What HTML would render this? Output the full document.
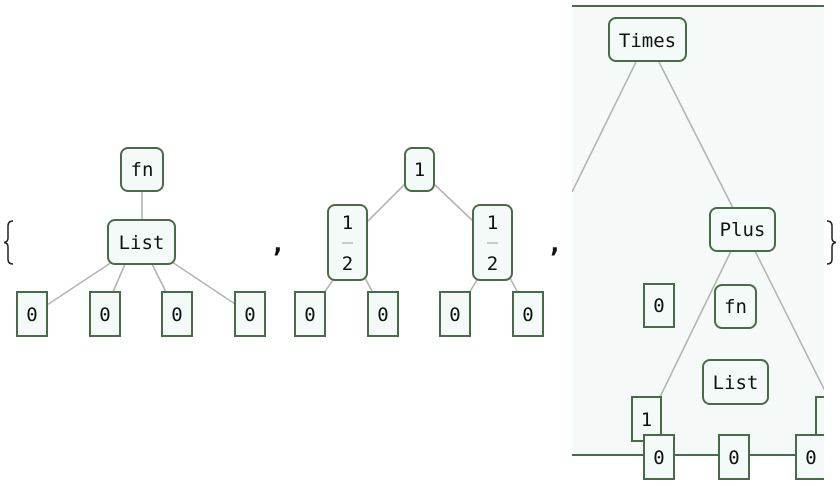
<!DOCTYPE html>
<html><head><meta charset="utf-8"><style>
html,body{margin:0;padding:0;background:#fff;width:840px;height:486px;overflow:hidden}
svg{display:block}
.b{fill:#f4faf7;stroke:#4a6b48;stroke-width:2}
.l{stroke:#b5b5b0;stroke-width:1.6;fill:none}
</style></head><body>
<svg width="840" height="486" viewBox="0 0 840 486" font-family="DejaVu Sans Mono, Liberation Mono, monospace" font-size="19" fill="#111">
<!-- tree 1 -->
<g>
<line class="l" x1="142" y1="191" x2="142" y2="220"/>
<line class="l" x1="112" y1="262" x2="47" y2="305"/>
<line class="l" x1="125" y1="264" x2="113" y2="292"/>
<line class="l" x1="152" y1="264" x2="166" y2="292"/>
<line class="l" x1="172" y1="262" x2="235" y2="304"/>
<rect class="b" x="121" y="148" width="42" height="43" rx="7"/><text x="142" y="176" text-anchor="middle">fn</text>
<rect class="b" x="108" y="220" width="67" height="44" rx="7"/><text x="141.5" y="249" text-anchor="middle">List</text>
<rect class="b" x="17" y="292" width="30" height="44"/><text x="32" y="321" text-anchor="middle">0</text>
<rect class="b" x="90" y="292" width="30" height="44"/><text x="105" y="321" text-anchor="middle">0</text>
<rect class="b" x="162" y="292" width="30" height="44"/><text x="177" y="321" text-anchor="middle">0</text>
<rect class="b" x="235" y="292" width="30" height="44"/><text x="250" y="321" text-anchor="middle">0</text>
</g>
<path d="M13 221 Q8 221 8 226 L8 238 Q8 242 4 242.5 Q8 243 8 247 L8 259 Q8 264 13 264" fill="none" stroke="#222" stroke-width="1.5"/>
<text x="270" y="252" font-size="26" font-weight="bold">,</text>
<!-- tree 2 -->
<g>
<line class="l" x1="405" y1="184" x2="368" y2="221"/>
<line class="l" x1="434" y1="184" x2="473" y2="221"/>
<line class="l" x1="333" y1="280" x2="324" y2="293"/>
<line class="l" x1="365" y1="278" x2="373" y2="293"/>
<line class="l" x1="477" y1="280" x2="469" y2="293"/>
<line class="l" x1="510" y1="278" x2="518" y2="293"/>
<rect class="b" x="405" y="148" width="29" height="43" rx="7"/><text x="419.5" y="176" text-anchor="middle">1</text>
<rect class="b" x="328" y="205" width="39" height="75" rx="7"/><text x="347.5" y="229" text-anchor="middle">1</text><line x1="342" y1="243" x2="353" y2="243" stroke="#999" stroke-width="1"/><text x="347.5" y="270" text-anchor="middle">2</text>
<rect class="b" x="473" y="205" width="39" height="75" rx="7"/><text x="492.5" y="229" text-anchor="middle">1</text><line x1="487" y1="243" x2="498" y2="243" stroke="#999" stroke-width="1"/><text x="492.5" y="270" text-anchor="middle">2</text>
<rect class="b" x="295" y="292" width="30" height="44"/><text x="310" y="321" text-anchor="middle">0</text>
<rect class="b" x="368" y="292" width="30" height="44"/><text x="383" y="321" text-anchor="middle">0</text>
<rect class="b" x="440" y="292" width="30" height="44"/><text x="455" y="321" text-anchor="middle">0</text>
<rect class="b" x="513" y="292" width="30" height="44"/><text x="528" y="321" text-anchor="middle">0</text>
</g>
<text x="547" y="252" font-size="26" font-weight="bold">,</text>
<!-- panel -->
<defs><clipPath id="c"><rect x="572" y="0" width="252" height="486"/></clipPath></defs>
<g clip-path="url(#c)">
<rect x="572" y="6" width="252" height="449" fill="#f5faf8"/>
<line x1="572" y1="6" x2="824" y2="6" stroke="#4a6b48" stroke-width="2"/>
<line x1="572" y1="455" x2="824" y2="455" stroke="#4a6b48" stroke-width="2"/>
<line class="l" x1="636" y1="62" x2="572" y2="192"/>
<line class="l" x1="659" y1="62" x2="733" y2="208"/>
<line class="l" x1="731" y1="251" x2="660" y2="397"/>
<line class="l" x1="755" y1="251" x2="826" y2="393"/>
<rect class="b" x="609" y="18" width="77" height="43" rx="7"/><text x="647.5" y="47" text-anchor="middle">Times</text>
<rect class="b" x="710" y="208" width="65" height="43" rx="7"/><text x="742.5" y="236" text-anchor="middle">Plus</text>
<rect class="b" x="644" y="284" width="30" height="43"/><text x="659" y="312" text-anchor="middle">0</text>
<rect class="b" x="715" y="285" width="41" height="43" rx="7"/><text x="735.5" y="313" text-anchor="middle">fn</text>
<rect class="b" x="703" y="360" width="65" height="44" rx="7"/><text x="735.5" y="389" text-anchor="middle">List</text>
<rect class="b" x="632" y="397" width="29" height="44"/><text x="646.5" y="426" text-anchor="middle">1</text>
<rect class="b" x="816" y="397" width="29" height="44"/>
<rect class="b" x="644" y="435" width="30" height="44"/><text x="659" y="464" text-anchor="middle">0</text>
<rect class="b" x="719" y="435" width="30" height="44"/><text x="734" y="464" text-anchor="middle">0</text>
<rect class="b" x="796" y="435" width="30" height="44"/><text x="811" y="464" text-anchor="middle">0</text>
</g>
<path d="M827 221 Q832 221 832 226 L832 238 Q832 242 836 242.5 Q832 243 832 247 L832 259 Q832 264 827 264" fill="none" stroke="#222" stroke-width="1.5"/>
</svg>
</body></html>
